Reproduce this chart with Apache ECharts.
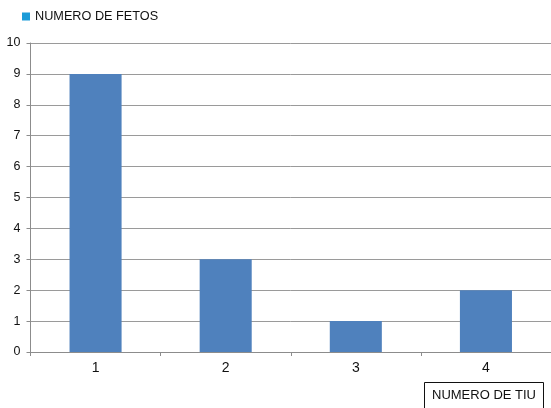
<!DOCTYPE html>
<html>
<head>
<meta charset="utf-8">
<script src="https://cdn.jsdelivr.net/npm/echarts@6/dist/echarts.min.js"></script>
<style>
  html, body { margin: 0; padding: 0; background: #fff; }
  #chart { width: 551px; height: 408px; }
</style>
</head>
<body>
<div id="chart"></div>
<script>
// Number of fetuses per IUD count
const categories = ['1', '2', '3', '4'];
const fetusCounts = [9, 3, 1, 2];
const yTicks = [0, 1, 2, 3, 4, 5, 6, 7, 8, 9, 10];

const chart = echarts.init(document.getElementById('chart'));
const font = 'Liberation Sans, Arial, sans-serif';

chart.setOption({
  animation: false,
  backgroundColor: '#ffffff',
  legend: {
    left: 17,
    top: 5,
    itemWidth: 8,
    itemHeight: 8,
    icon: 'rect',
    textStyle: { fontFamily: font, fontSize: 12.7, color: '#111' },
    data: [{ name: 'NUMERO DE FETOS', itemStyle: { color: '#1b9bd8' } }]
  },
  grid: { left: 30.5, top: 43, width: 522, height: 309, containLabel: false },
  xAxis: {
    type: 'category',
    data: categories,
    axisLine: { lineStyle: { color: '#8c8c8c', width: 1 } },
    axisTick: { show: true, length: 4, inside: false, lineStyle: { color: '#8c8c8c' } },
    axisLabel: { fontFamily: font, fontSize: 14, color: '#111', margin: 9 },
    splitLine: { show: false }
  },
  yAxis: {
    type: 'value',
    min: yTicks[0],
    max: yTicks[yTicks.length - 1],
    interval: 1,
    axisLine: { show: true, lineStyle: { color: '#8c8c8c', width: 1 } },
    axisTick: { show: true, length: 4, lineStyle: { color: '#8c8c8c' } },
    axisLabel: { fontFamily: font, fontSize: 12.5, color: '#111', margin: 10 },
    splitLine: { show: true, lineStyle: { color: '#9a9a9a', width: 1 } }
  },
  series: [{
    name: 'NUMERO DE FETOS',
    type: 'bar',
    data: fetusCounts,
    barWidth: '40%',
    itemStyle: { color: '#4f81bd' }
  }],
  graphic: [{
    type: 'group',
    left: 424,
    top: 382,
    children: [
      { type: 'rect', shape: { x: 0.5, y: 0.5, width: 119, height: 32 },
        style: { fill: '#fff', stroke: '#111', lineWidth: 1 } },
      { type: 'text', x: 60, y: 13,
        style: { text: 'NUMERO DE TIU', fontFamily: font, fontSize: 13, fill: '#111',
                 textAlign: 'center', textVerticalAlign: 'middle' } }
    ]
  }]
});
</script>
</body>
</html>
